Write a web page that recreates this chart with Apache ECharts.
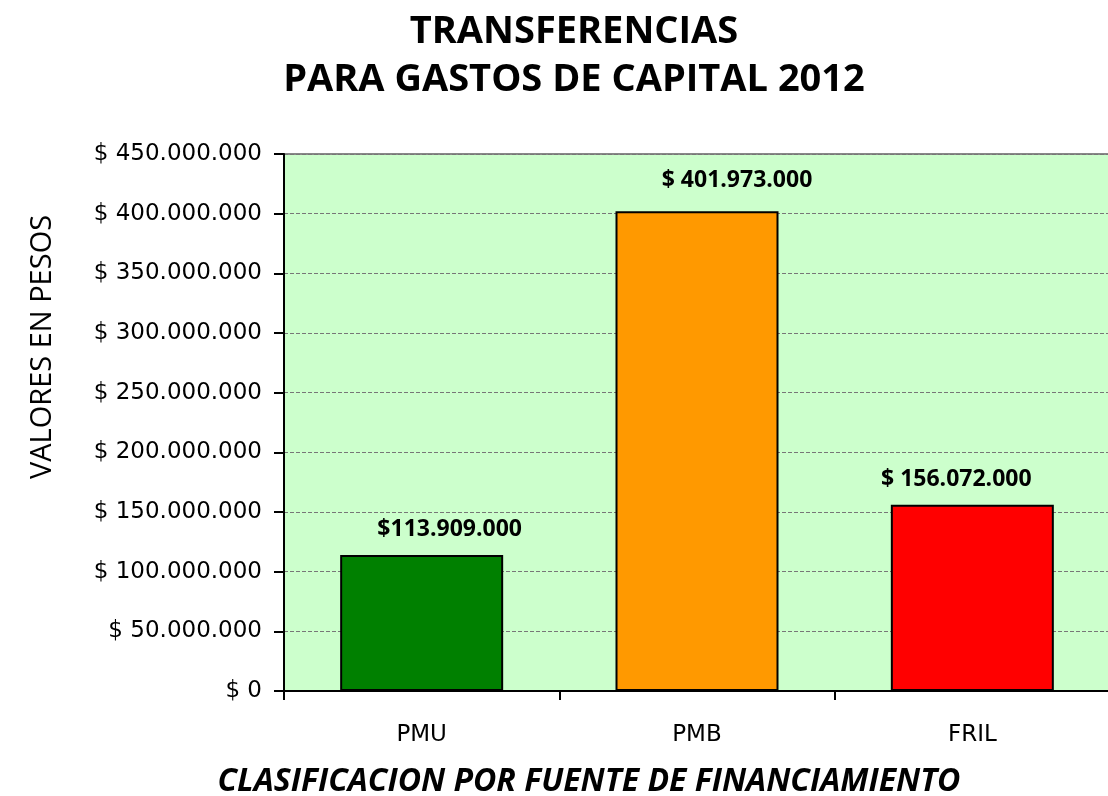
<!DOCTYPE html>
<html>
<head>
<meta charset="utf-8">
<script src="https://cdn.jsdelivr.net/npm/echarts@6/dist/echarts.min.js"></script>
<style>
  html, body { margin: 0; padding: 0; background: #fff; }
  #chart { width: 1108px; height: 796px; }
</style>
</head>
<body>
<div id="chart"></div>
<script>
const categories = ['PMU', 'PMB', 'FRIL']
const values = [113909000, 401973000, 156072000]
const barColors = ['#008000', '#FF9900', '#FF0000']
const valueLabels = ['$113.909.000', '$ 401.973.000', '$ 156.072.000']
// etiquetas movidas a mano como en el original
const labelOffsets = [[28, 0], [40, -5], [-16, 0]]

function fmtPesos(v) {
  return '$ ' + String(v).replace(/\B(?=(\d{3})+(?!\d))/g, '.')
}

const chart = echarts.init(document.getElementById('chart'))
const fontFam = '"Open Sans", "DejaVu Sans", sans-serif'
const wideFam = '"DejaVu Sans", "Open Sans", sans-serif'

chart.setOption({
  animation: false,
  textStyle: { fontFamily: fontFam },
  title: {
    text: 'TRANSFERENCIAS\nPARA GASTOS DE CAPITAL 2012',
    left: 569,
    textAlign: 'center',
    top: 3,
    textStyle: { fontSize: 38, fontWeight: 'bold', color: '#000', lineHeight: 48, fontFamily: fontFam },
  },
  graphic: [{
    type: 'text',
    x: 43,
    y: 347,
    rotation: Math.PI / 2,
    style: {
      text: 'VALORES EN PESOS',
      font: '29px "Open Sans", sans-serif',
      fill: '#000',
      align: 'center',
      verticalAlign: 'middle',
    },
  }, {
    type: 'text',
    x: 589,
    y: 782,
    style: {
      text: 'CLASIFICACION POR FUENTE DE FINANCIAMIENTO',
      font: 'italic bold 32px "Open Sans", sans-serif',
      fill: '#000',
      align: 'center',
      verticalAlign: 'middle',
    },
  }],
  grid: {
    left: 284, right: -2, top: 154, bottom: 105,
    outerBoundsMode: 'none',
    containLabel: false,
    show: true,
    backgroundColor: '#CCFFCC',
    borderColor: '#888',
    borderWidth: 2,
  },
  xAxis: {
    type: 'category',
    data: categories,
    axisLine: { lineStyle: { color: '#000', width: 2 } },
    axisTick: { show: true, length: 9, lineStyle: { color: '#000', width: 2 } },
    axisLabel: { fontSize: 23, color: '#000', margin: 33, fontFamily: wideFam },
  },
  yAxis: {
    type: 'value',
    min: 0,
    max: 450000000,
    interval: 50000000,
    axisLine: { show: true, lineStyle: { color: '#000', width: 2 } },
    axisTick: { show: true, length: 10, lineStyle: { color: '#000', width: 2 } },
    axisLabel: { fontSize: 23, color: '#000', margin: 22, formatter: fmtPesos, fontFamily: wideFam },
    splitLine: { lineStyle: { color: '#777', type: 'dashed', width: 1 } },
  },
  series: [{
    type: 'bar',
    barWidth: 163,
    data: values.map((v, i) => ({
      value: v,
      itemStyle: { color: barColors[i], borderColor: '#000', borderWidth: 2 },
      label: { formatter: valueLabels[i], offset: labelOffsets[i] },
    })),
    label: {
      show: true,
      position: 'top',
      distance: 14,
      fontSize: 23,
      fontWeight: 'bold',
      color: '#000',
    },
  }],
})
</script>
</body>
</html>
